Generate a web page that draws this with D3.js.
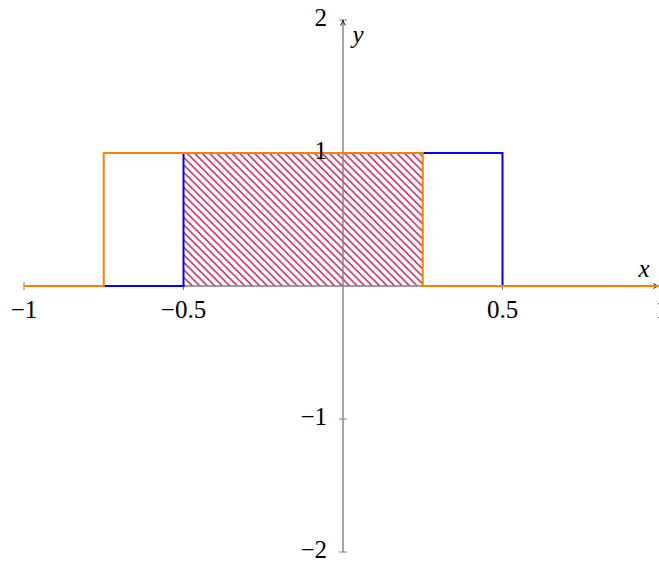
<!DOCTYPE html>
<html>
<head>
<meta charset="utf-8">
<script src="https://cdn.jsdelivr.net/npm/d3@7"></script>
<style>
  html, body { margin: 0; padding: 0; background: #fff; }
  svg { display: block; }
</style>
</head>
<body>
<script>
// Two unit rectangle functions and the interval where both equal 1
const blueSteps = [[-1, 0], [-0.5, 0], [-0.5, 1], [0.5, 1], [0.5, 0], [1, 0]];
const orangeSteps = [[-1, 0], [-0.75, 0], [-0.75, 1], [0.25, 1], [0.25, 0], [1, 0]];
const overlap = [-0.5, 0.25];
const overlapHeight = 1;

const xTicks = [-1, -0.5, 0.5, 1];
const xTickLabels = ["\u22121", "\u22120.5", "0.5", "1"];
const yTicks = [-2, -1, 1, 2];
const yTickLabels = ["\u22122", "\u22121", "1", "2"];

const W = 659, H = 561;
const FONT = "'Liberation Serif', 'DejaVu Serif', serif";
const x = d3.scaleLinear().domain([-1, 1]).range([24, 662]);
const y = d3.scaleLinear().domain([-2, 2]).range([552, 20]);

const svg = d3.select("body").append("svg").attr("width", W).attr("height", H);
const defs = svg.append("defs");

// diagonal hatch (top-left to bottom-right)
const pat = defs.append("pattern")
  .attr("id", "hatch")
  .attr("patternUnits", "userSpaceOnUse")
  .attr("width", 5.3).attr("height", 5.3)
  .attr("patternTransform", "rotate(45)");
pat.append("line")
  .attr("x1", 0).attr("y1", 2.6).attr("x2", 5.3).attr("y2", 2.6)
  .attr("stroke", "#cc0036").attr("stroke-width", 1.3);

// arrow marker for the axes
defs.append("marker")
  .attr("id", "arrow")
  .attr("viewBox", "0 0 10 10")
  .attr("refX", 9).attr("refY", 5)
  .attr("markerWidth", 7).attr("markerHeight", 7)
  .attr("markerUnits", "userSpaceOnUse")
  .attr("orient", "auto")
  .append("path")
  .attr("d", "M1,1.5 Q5,4.2 9.5,5 Q5,5.8 1,8.5")
  .attr("fill", "none").attr("stroke", "#000").attr("stroke-width", 1.3);

// hatched overlap region
svg.append("rect")
  .attr("x", x(overlap[0]))
  .attr("y", y(overlapHeight))
  .attr("width", x(overlap[1]) - x(overlap[0]))
  .attr("height", y(0) - y(overlapHeight))
  .attr("fill", "url(#hatch)");

const axisColor = "#808080";
const g = svg.append("g");

// x axis
g.append("line")
  .attr("x1", x(-1)).attr("y1", y(0)).attr("x2", x(1) - 3).attr("y2", y(0))
  .attr("stroke", axisColor).attr("stroke-width", 1.4)
  .attr("marker-end", "url(#arrow)");
g.selectAll(".xt").data(xTicks).enter().append("line")
  .attr("x1", d => x(d)).attr("x2", d => x(d))
  .attr("y1", y(0) - 4).attr("y2", y(0) + 4)
  .attr("stroke", axisColor).attr("stroke-width", 1);
g.selectAll(".xl").data(xTicks).enter().append("text")
  .attr("x", d => x(d)).attr("y", y(0) + 32)
  .attr("text-anchor", "middle").attr("font-size", 25)
  .attr("font-family", FONT)
  .text((d, i) => xTickLabels[i]);

// y axis
g.append("line")
  .attr("x1", x(0)).attr("y1", y(-2)).attr("x2", x(0)).attr("y2", y(2))
  .attr("stroke", axisColor).attr("stroke-width", 1.4)
  .attr("marker-end", "url(#arrow)");
g.selectAll(".yt").data(yTicks).enter().append("line")
  .attr("y1", d => y(d)).attr("y2", d => y(d))
  .attr("x1", x(0) - 4).attr("x2", x(0) + 4)
  .attr("stroke", axisColor).attr("stroke-width", 1);

// function graphs
const line = d3.line().x(d => x(d[0])).y(d => y(d[1]));
svg.append("path").datum(blueSteps).attr("d", line)
  .attr("fill", "none").attr("stroke", "#0000ff").attr("stroke-width", 2);
svg.append("path").datum(orangeSteps).attr("d", line)
  .attr("fill", "none").attr("stroke", "#ff8000").attr("stroke-width", 2);

// y tick labels drawn on top
svg.selectAll(".yl").data(yTicks).enter().append("text")
  .attr("x", x(0) - 16).attr("y", d => y(d) + 6)
  .attr("text-anchor", "end").attr("font-size", 25)
  .attr("font-family", FONT)
  .text((d, i) => yTickLabels[i]);

// axis names
svg.append("text").attr("x", 644).attr("y", 277)
  .attr("text-anchor", "middle").attr("font-size", 25).attr("font-style", "italic")
  .attr("font-family", FONT)
  .text("x");
svg.append("text").attr("x", 358).attr("y", 43)
  .attr("text-anchor", "middle").attr("font-size", 25).attr("font-style", "italic")
  .attr("font-family", FONT)
  .text("y");
</script>
</body>
</html>
